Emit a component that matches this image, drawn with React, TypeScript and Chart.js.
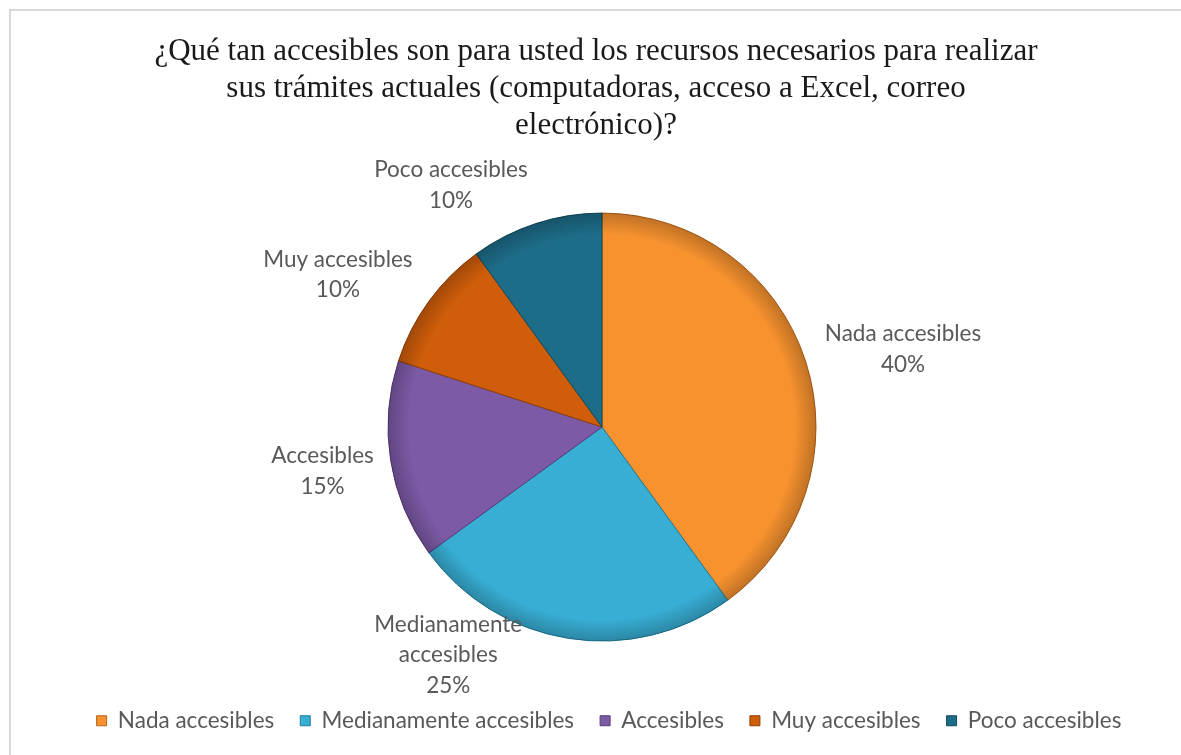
import React, { useEffect, useRef } from "react";
import { Chart, registerables } from "chart.js";

Chart.register(...registerables);

const categories = [
  "Nada accesibles",
  "Medianamente accesibles",
  "Accesibles",
  "Muy accesibles",
  "Poco accesibles",
];
const percentages = [40, 25, 15, 10, 10];
const sliceColors = ["#F7922F", "#38AED4", "#7C5AA6", "#CF5D0A", "#1D6C88"];
const sliceBorders = ["#B4631A", "#1F7C98", "#563C7A", "#8E3F06", "#114A5E"];
const titleLines = [
  "¿Qué tan accesibles son para usted los recursos necesarios para realizar",
  "sus trámites actuales (computadoras, acceso a Excel, correo",
  "electrónico)?",
];
// label text lines (category split as shown in the picture)
const labelLines = [
  ["Nada accesibles"],
  ["Medianamente", "accesibles"],
  ["Accesibles"],
  ["Muy accesibles"],
  ["Poco accesibles"],
];

const LABEL_FONT = "Lato, 'Noto Sans', sans-serif";

const framePlugin = {
  id: "frame",
  beforeDraw(chart: any) {
    const { ctx, width, height } = chart;
    ctx.save();
    ctx.fillStyle = "#ffffff";
    ctx.fillRect(0, 0, width, height);
    ctx.strokeStyle = "#D9D9D9";
    ctx.lineWidth = 2;
    ctx.strokeRect(10, 10, width + 20, height + 20);
    ctx.restore();
  },
};

// small horizontal nudges of the title and legend boxes
const boxShiftPlugin = {
  id: "boxShift",
  afterLayout(chart: any, _args: any, opts: any) {
    const t = chart.titleBlock;
    if (t) {
      t.left += opts.title;
      t.right += opts.title;
    }
    const l = chart.legend;
    if (l) {
      l.left += opts.legend;
      l.right += opts.legend;
    }
  },
};

const bevelPlugin = {
  id: "bevel",
  afterDatasetsDraw(chart: any) {
    const { ctx } = chart;
    const meta = chart.getDatasetMeta(0);
    meta.data.forEach((arc: any) => {
      const { x, y, startAngle, endAngle, outerRadius } = arc.getProps(
        ["x", "y", "startAngle", "endAngle", "outerRadius"],
        true
      );
      ctx.save();
      ctx.beginPath();
      ctx.moveTo(x, y);
      ctx.arc(x, y, outerRadius, startAngle, endAngle);
      ctx.closePath();
      ctx.clip();
      const g = ctx.createRadialGradient(x, y, outerRadius * 0.9, x, y, outerRadius);
      g.addColorStop(0, "rgba(0,0,0,0)");
      g.addColorStop(1, "rgba(0,0,0,0.22)");
      ctx.fillStyle = g;
      ctx.fillRect(x - outerRadius, y - outerRadius, outerRadius * 2, outerRadius * 2);
      ctx.restore();
    });
  },
};

const outsideLabelsPlugin = {
  id: "outsideLabels",
  afterDraw(chart: any, _args: any, opts: any) {
    const { ctx } = chart;
    const meta = chart.getDatasetMeta(0);
    const values = chart.data.datasets[0].data as number[];
    ctx.save();
    ctx.font = `${opts.size}px ${LABEL_FONT}`;
    ctx.fillStyle = opts.color;
    ctx.textAlign = "center";
    ctx.textBaseline = "middle";
    meta.data.forEach((arc: any, i: number) => {
      const { x, y, startAngle, endAngle, outerRadius } = arc.getProps(
        ["x", "y", "startAngle", "endAngle", "outerRadius"],
        true
      );
      const mid = (startAngle + endAngle) / 2 + (opts.angleShift[i] * Math.PI) / 180;
      const d = outerRadius * opts.distance[i];
      const cx = x + Math.cos(mid) * d;
      const cy = y + Math.sin(mid) * d;
      const lines = [...labelLines[i], `${values[i]}%`];
      const lh = opts.lineHeight;
      const top = cy - ((lines.length - 1) * lh) / 2;
      lines.forEach((t, k) => ctx.fillText(t, cx, top + k * lh));
    });
    ctx.restore();
  },
};

export default function App() {
  const ref = useRef<HTMLCanvasElement | null>(null);
  useEffect(() => {
    if (!ref.current) return;
    const chart = new Chart(ref.current, {
      type: "pie",
      data: {
        labels: categories,
        datasets: [
          {
            data: percentages,
            backgroundColor: sliceColors,
            borderColor: sliceBorders,
            borderWidth: 1,
            radius: 214,
          },
        ],
      },
      options: {
        animation: false,
        responsive: false,
        rotation: 0,
        layout: { padding: { left: 23, right: 0, top: 0, bottom: 13 } },
        plugins: {
          title: {
            display: true,
            text: titleLines,
            color: "#1a1a1a",
            font: { family: "'Liberation Serif', 'Times New Roman', serif", size: 31, weight: "normal" },
            lineHeight: 1.2,
            padding: { top: 33, bottom: 26 },
          },
          legend: {
            position: "bottom",
            labels: {
              color: "#595959",
              font: { family: LABEL_FONT, size: 22.5 },
              boxWidth: 10,
              boxHeight: 10,
              padding: 26,
            },
          },
          tooltip: { enabled: false },
          boxShift: { title: -6, legend: 7 },
          outsideLabels: {
            size: 22.5,
            color: "#595959",
            lineHeight: 30.5,
            angleShift: [3.5, 25, 0, -6, -14],
            distance: [1.453, 1.285, 1.322, 1.425, 1.332],
          },
        } as any,
      },
      plugins: [framePlugin, boxShiftPlugin, bevelPlugin, outsideLabelsPlugin],
    });
    return () => chart.destroy();
  }, []);
  return (
    <div style={{ position: "absolute", left: 0, top: 0, width: 1181, height: 755 }}>
      <canvas ref={ref} width={1181} height={755} style={{ width: 1181, height: 755 }} />
    </div>
  );
}
